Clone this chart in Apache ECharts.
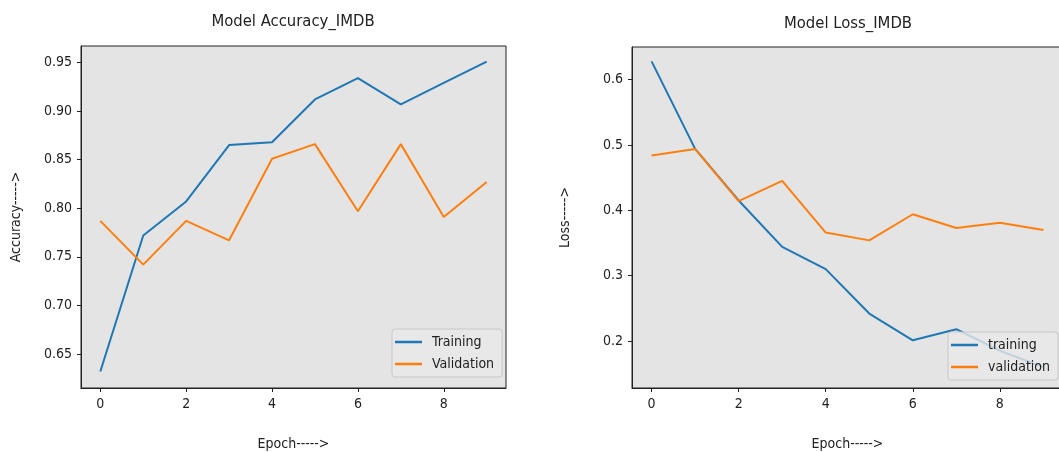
<!DOCTYPE html>
<html style="height: 100%">
   <head>
       <meta charset="utf-8">
   </head>
   <body style="height: 100%; margin: 0; background: #fff">
       <div id="container" style="width: 1059px; height: 452px"></div>
       <script type="text/javascript" src="https://cdn.jsdelivr.net/npm/echarts@6/dist/echarts.min.js"></script>
       <script type="text/javascript">
var epochs = [0, 1, 2, 3, 4, 5, 6, 7, 8, 9];
var epochTicks = [0, 2, 4, 6, 8];
var trainAcc = [0.632, 0.772, 0.807, 0.865, 0.868, 0.912, 0.934, 0.907, 0.929, 0.951];
var valAcc = [0.787, 0.742, 0.787, 0.767, 0.851, 0.866, 0.797, 0.866, 0.791, 0.827];
var trainLoss = [0.628, 0.494, 0.415, 0.344, 0.310, 0.242, 0.201, 0.218, 0.185, 0.160];
var valLoss = [0.484, 0.494, 0.414, 0.445, 0.366, 0.354, 0.394, 0.373, 0.381, 0.370];
var accTicks = [0.65, 0.70, 0.75, 0.80, 0.85, 0.90, 0.95];
var lossTicks = [0.2, 0.3, 0.4, 0.5, 0.6];

var FONT = '"DejaVu Sans Condensed", "DejaVu Sans", sans-serif';
var BLUE = '#1f77b4', ORANGE = '#ff7f0e';

function pairs(ys) {
    return epochs.map(function (x, i) { return [x, ys[i]]; });
}

var dom = document.getElementById("container");
var myChart = echarts.init(dom);

function xAx(grid) {
    return {
        type: 'value', gridIndex: grid, min: -0.45, max: 9.45,
        name: 'Epoch----->', nameLocation: 'middle', nameGap: 49,
        nameTextStyle: {fontFamily: FONT, fontSize: 14, color: '#222'},
        splitLine: {show: false},
        axisLine: {show: true, onZero: false, lineStyle: {color: '#222'}},
        axisTick: {show: true, length: 4, customValues: epochTicks, lineStyle: {color: '#222'}},
        axisLabel: {customValues: epochTicks, margin: 9, fontFamily: FONT, fontSize: 14, color: '#222'}
    };
}

function yAx(grid, name, min, max, ticks, dec, gap) {
    return {
        type: 'value', gridIndex: grid, min: min, max: max,
        name: name, nameLocation: 'middle', nameGap: gap, nameRotate: 90,
        nameTextStyle: {fontFamily: FONT, fontSize: 14, color: '#222'},
        splitLine: {show: false},
        axisLine: {show: true, onZero: false, lineStyle: {color: '#222'}},
        axisTick: {show: true, length: 4, customValues: ticks, lineStyle: {color: '#222'}},
        axisLabel: {
            customValues: ticks, margin: 9, fontFamily: FONT, fontSize: 14, color: '#222',
            formatter: function (v) { return v.toFixed(dec); }
        }
    };
}

function legendBox(left, top, names) {
    return {
        data: names, orient: 'vertical', left: left, top: top,
        icon: 'rect', itemWidth: 27, itemHeight: 2.5, itemGap: 8,
        backgroundColor: 'rgba(232,232,232,0.8)', borderColor: '#c8c8c8', borderWidth: 1,
        borderRadius: 3, padding: [6, 8, 6, 3],
        textStyle: {fontFamily: FONT, fontSize: 14, color: '#222', padding: [0, 0, 0, 5]}
    };
}

function line(name, data, color, xi) {
    return {
        name: name, type: 'line', xAxisIndex: xi, yAxisIndex: xi,
        data: pairs(data), symbol: 'none', animation: false,
        lineStyle: {color: color, width: 2}, itemStyle: {color: color}
    };
}

var option = {
    animation: false,
    title: [
        {text: 'Model Accuracy_IMDB', left: 288, top: 8, textAlign: 'center',
         textStyle: {fontFamily: FONT, fontSize: 16.5, fontWeight: 'normal', color: '#222'}},
        {text: 'Model Loss_IMDB', left: 843, top: 10, textAlign: 'center',
         textStyle: {fontFamily: FONT, fontSize: 16.5, fontWeight: 'normal', color: '#222'}}
    ],
    grid: [
        {left: 81, top: 46, width: 425, height: 342, show: true, outerBoundsMode: 'none',
         backgroundColor: '#e4e4e4', borderColor: '#222', borderWidth: 1},
        {left: 632, top: 47, width: 431, height: 341, show: true, outerBoundsMode: 'none',
         backgroundColor: '#e4e4e4', borderColor: '#222', borderWidth: 1}
    ],
    legend: [
        legendBox(392, 329, ['Training', 'Validation']),
        legendBox(948, 332, ['training', 'validation'])
    ],
    xAxis: [xAx(0), xAx(1)],
    yAxis: [
        yAx(0, 'Accuracy----->', 0.615, 0.967, accTicks, 2, 58),
        yAx(1, 'Loss----->', 0.128, 0.65, lossTicks, 1, 60)
    ],
    series: [
        line('Training', trainAcc, BLUE, 0),
        line('Validation', valAcc, ORANGE, 0),
        line('training', trainLoss, BLUE, 1),
        line('validation', valLoss, ORANGE, 1)
    ]
};

myChart.setOption(option);
       </script>
   </body>
</html>
